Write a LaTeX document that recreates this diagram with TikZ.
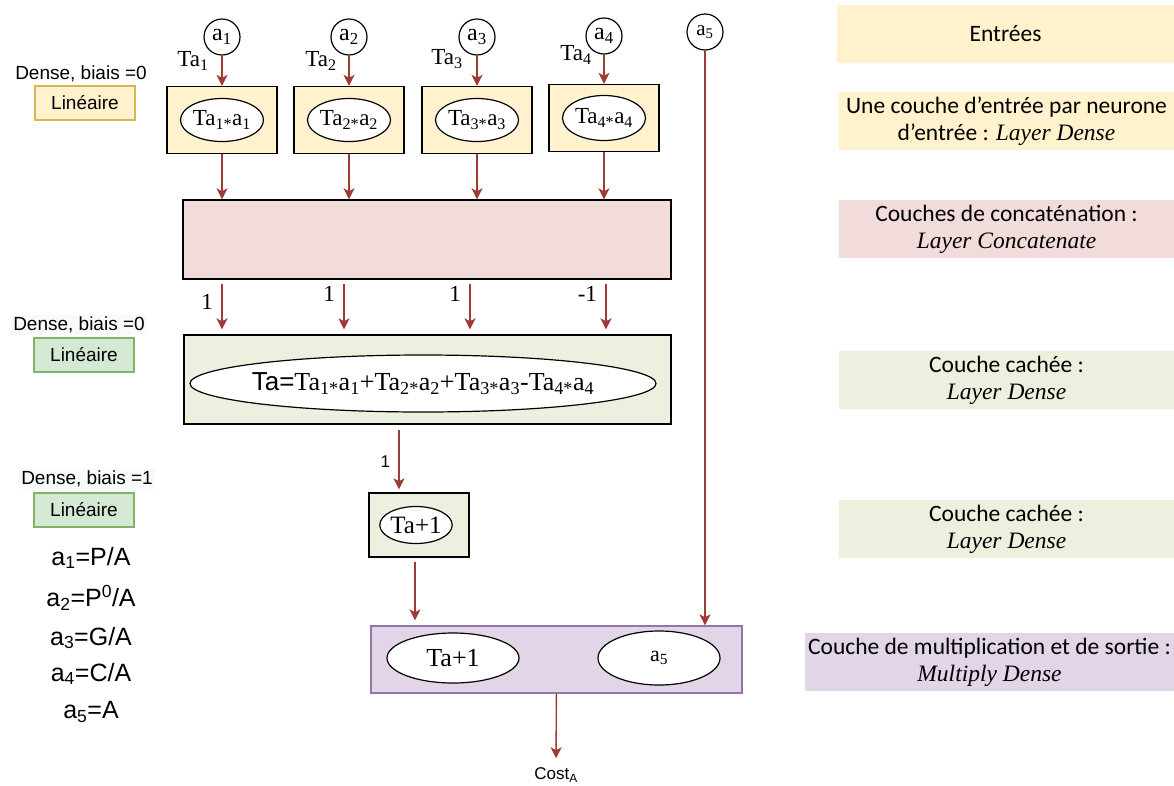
\documentclass[tikz,border=0pt]{standalone}
\usepackage{fontspec}
\newfontfamily\arialfont{Liberation Sans}
\newfontfamily\calibrifont{Carlito}
\newfontfamily\timesfont{Liberation Serif}
\usepackage{xcolor}
\definecolor{inyellow}{HTML}{FFF2CC}
\definecolor{concatpink}{HTML}{F2DCDB}
\definecolor{hidgreen}{HTML}{EBF1DE}
\definecolor{outpurple}{HTML}{E1D5E7}
\definecolor{purpleline}{HTML}{9673A6}
\definecolor{linyellow}{HTML}{FFF2CC}
\definecolor{linyellowline}{HTML}{D6B656}
\definecolor{lingreen}{HTML}{D5E8D4}
\definecolor{lingreenline}{HTML}{82B366}
\definecolor{notebg}{HTML}{F8F9FA}
\definecolor{arrowred}{HTML}{9C3A33}
\usetikzlibrary{arrows.meta,positioning,shapes.geometric}
\newcommand{\tsub}[1]{\textsubscript{#1}}

\begin{document}
\begin{tikzpicture}[x=1pt,y=-1pt,
  box/.style={draw,line width=1.4pt,inner sep=0pt},
  oval/.style={draw,ellipse,fill=white,line width=1.2pt,inner sep=0pt,font=\timesfont\fontsize{23}{26}\selectfont},
  inp/.style={draw,circle,line width=1.2pt,inner sep=0pt,minimum size=36pt,font=\timesfont\fontsize{24}{26}\selectfont},
  arr/.style={draw=arrowred,line width=1.4pt,-{Stealth[length=11pt,width=11pt,inset=3pt]}},
  band/.style={inner sep=0pt,minimum height=58pt,align=center,font=\calibrifont\fontsize{23.5}{27}\selectfont},
  lin/.style={draw,line width=1.2pt,minimum width=100pt,minimum height=34pt,inner sep=0pt,font=\arialfont\fontsize{19}{21}\selectfont},
  note/.style={inner sep=2pt,font=\arialfont\fontsize{19}{21}\selectfont},
  formula/.style={font=\arialfont\fontsize{25}{28}\selectfont},
  wlab/.style={font=\timesfont\fontsize{23}{26}\selectfont}]
  \useasboundingbox (0,0) rectangle (1174,785);

  % Inputs
  \node[inp] (a1) at (222,37) {a\tsub{1}};
  \node[inp] (a2) at (349,37) {a\tsub{2}};
  \node[inp] (a3) at (477,37) {a\tsub{3}};
  \node[inp] (a4) at (604,36) {a\tsub{4}};
  \node[inp,font=\timesfont\fontsize{21}{24}\selectfont] (a5) at (705,32) {a\tsub{5}};
  \node[wlab] (ta1) at (193,61) {Ta\tsub{1}};
  \node[wlab] (ta2) at (321,61) {Ta\tsub{2}};
  \node[wlab] (ta3) at (447,59) {Ta\tsub{3}};
  \node[wlab] (ta4) at (576,55) {Ta\tsub{4}};

  % Input layers
  \node[box,fill=inyellow,minimum width=110pt,minimum height=67pt] (y1) at (222,120) {};
  \node[box,fill=inyellow,minimum width=110pt,minimum height=67pt] (y2) at (349,120) {};
  \node[box,fill=inyellow,minimum width=110pt,minimum height=67pt] (y3) at (477,120) {};
  \node[box,fill=inyellow,minimum width=110pt,minimum height=67pt] (y4) at (604,118) {};
  \node[oval,minimum width=83pt,minimum height=43pt] (m1) at (y1) {Ta\tsub{1*}a\tsub{1}};
  \node[oval,minimum width=83pt,minimum height=43pt] (m2) at (y2) {Ta\tsub{2*}a\tsub{2}};
  \node[oval,minimum width=83pt,minimum height=43pt] (m3) at (y3) {Ta\tsub{3*}a\tsub{3}};
  \node[oval,minimum width=83pt,minimum height=45pt] (m4) at (y4) {Ta\tsub{4*}a\tsub{4}};
  \draw[arr] (a1) -- (y1);
  \draw[arr] (a2) -- (y2);
  \draw[arr] (a3) -- (y3);
  \draw[arr] (a4) -- (y4);

  % Concatenate
  \node[box,fill=concatpink,minimum width=488pt,minimum height=79pt] (concat) at (427,239.5) {};
  \draw[arr] (y1) -- (y1 |- concat.north);
  \draw[arr] (y2) -- (y2 |- concat.north);
  \draw[arr] (y3) -- (y3 |- concat.north);
  \draw[arr] (y4) -- (y4 |- concat.north);

  % Hidden dense layer
  \node[box,fill=hidgreen,minimum width=487pt,minimum height=89pt] (dense) at (427.5,379.5) {};
  \node[oval,minimum width=466pt,minimum height=57pt,
    label={[font=\timesfont\fontsize{26}{29}\selectfont]center:{\arialfont Ta=}Ta\tsub{1*}a\tsub{1}+Ta\tsub{2*}a\tsub{2}+Ta\tsub{3*}a\tsub{3}-Ta\tsub{4*}a\tsub{4}}] (sum) at (423,383.5) {};
  \coordinate (w1) at (222,284);
  \coordinate (w2) at (344,284);
  \coordinate (w3) at (470,284);
  \coordinate (w4) at (606,284);
  \draw[arr,shorten >=5pt] (w1) -- (w1 |- dense.north) node[pos=0.35,left=5pt,wlab] {1};
  \draw[arr,shorten >=5pt] (w2) -- (w2 |- dense.north) node[pos=0.2,left=5pt,wlab] {1};
  \draw[arr,shorten >=5pt] (w3) -- (w3 |- dense.north) node[pos=0.2,left=5pt,wlab] {1};
  \draw[arr,shorten >=5pt] (w4) -- (w4 |- dense.north) node[pos=0.2,left=5pt,wlab] {-1};

  % Bias layer
  \node[box,fill=hidgreen,minimum width=100pt,minimum height=64pt] (plus) at (419,525) {};
  \node[oval,minimum width=71pt,minimum height=37pt,font=\timesfont\fontsize{25}{28}\selectfont] (pl) at (416,525) {Ta+1};
  \coordinate (d1) at (399,430);
  \draw[arr,shorten >=3pt] (d1) -- (d1 |- plus.north) node[midway,left=5pt,font=\arialfont\fontsize{17}{20}\selectfont] {1};

  % Multiply and output
  \node[box,draw=purpleline,fill=outpurple,minimum width=371pt,minimum height=67pt] (mult) at (556.5,659.5) {};
  \node[oval,minimum width=132pt,minimum height=50pt,font=\timesfont\fontsize{26}{28}\selectfont] (mt) at (453,658) {Ta+1};
  \node[oval,minimum width=122pt,minimum height=54pt,font=\timesfont\fontsize{22}{24}\selectfont] (ma) at (659,658) {a\tsub{5}};
  \coordinate (p1) at (415,562);
  \draw[arr,shorten >=5pt] (p1) -- (p1 |- mult.north);
  \draw[arr] (a5) -- (a5 |- mult.north);
  \node[font=\arialfont\fontsize{17}{20}\selectfont] (cost) at (556,775) {Cost\tsub{A}};
  \draw[arr,shorten >=6pt] (mult) -- (cost);

  % Left notes
  \node[note] (dn1) at (81,74) {Dense, biais =0};
  \node[lin,fill=linyellow,draw=linyellowline] (l1) at (85,103) {Linéaire};
  \node[note,fill=notebg] (dn2) at (79,325) {Dense, biais =0};
  \node[lin,fill=lingreen,draw=lingreenline] (l2) at (84,355) {Linéaire};
  \node[note,fill=notebg] (dn3) at (87,479) {Dense, biais =1};
  \node[lin,fill=lingreen,draw=lingreenline] (l3) at (84,510) {Linéaire};
  \node[formula] (f1) at (91,558) {a\tsub{1}=P/A};
  \node[formula] (f2) at (91,598) {a\tsub{2}=P\textsuperscript{0}/A};
  \node[formula] (f3) at (91,638) {a\tsub{3}=G/A};
  \node[formula] (f4) at (91,674) {a\tsub{4}=C/A};
  \node[formula] (f5) at (91,712) {a\tsub{5}=A};

  % Right legend
  \node[band,fill=inyellow,minimum width=337pt] (b1) at (1005.5,33.5) {Entrées};
  \node[band,fill=inyellow,minimum width=335pt] (b2) at (1006.5,121) {Une couche d’entrée par neurone\\d’entrée : {\timesfont\itshape Layer Dense}};
  \node[band,fill=concatpink,minimum width=335pt] (b3) at (1006.5,229) {Couches de concaténation :\\{\timesfont\itshape Layer Concatenate}};
  \node[band,fill=hidgreen,minimum width=335pt] (b4) at (1006.5,380) {Couche cachée :\\{\timesfont\itshape Layer Dense}};
  \node[band,fill=hidgreen,minimum width=335pt] (b5) at (1006.5,529) {Couche cachée :\\{\timesfont\itshape Layer Dense}};
  \node[band,fill=outpurple,minimum width=369pt] (b6) at (989.5,662) {Couche de multiplication et de sortie :\\{\timesfont\itshape Multiply Dense}};
\end{tikzpicture}
\end{document}
